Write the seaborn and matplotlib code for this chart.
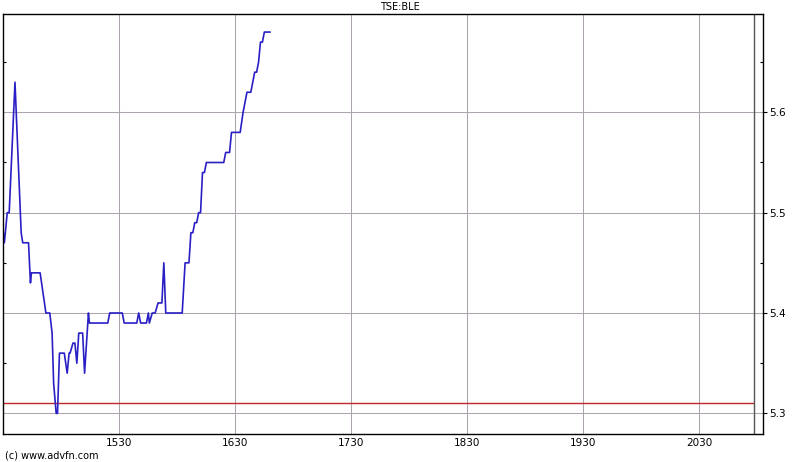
import numpy as np
import pandas as pd
import matplotlib.pyplot as plt
import seaborn as sns
from matplotlib.ticker import MultipleLocator

# minutes after 14:30 and last trade price
minutes = [0, 0.5, 2, 3, 6, 9.2, 10, 13, 14, 14.5, 19, 20.5, 22, 24, 25.2, 26,
           27.3, 28, 29, 31.5, 33, 34, 34.5, 36, 37, 38, 39, 41, 42, 44, 44.5,
           54, 55, 61.5, 62.5, 69, 70, 71, 74, 75, 75.5, 77, 78.5, 80, 82, 83,
           84, 92.5, 94, 96, 97, 98, 99, 100, 101, 102, 103, 104, 105, 114,
           115, 117, 118, 122.5, 124, 126, 128, 130, 131, 132, 133, 134, 135,
           138]
prices = [5.48, 5.47, 5.50, 5.50, 5.63, 5.48, 5.47, 5.47, 5.43, 5.44, 5.44,
          5.42, 5.40, 5.40, 5.38, 5.33, 5.30, 5.30, 5.36, 5.36, 5.34, 5.36,
          5.36, 5.37, 5.37, 5.35, 5.38, 5.38, 5.34, 5.40, 5.39, 5.39, 5.40,
          5.40, 5.39, 5.39, 5.40, 5.39, 5.39, 5.40, 5.39, 5.40, 5.40, 5.41,
          5.41, 5.45, 5.40, 5.40, 5.45, 5.45, 5.48, 5.48, 5.49, 5.49, 5.50,
          5.50, 5.54, 5.54, 5.55, 5.55, 5.56, 5.56, 5.58, 5.58, 5.60, 5.62,
          5.62, 5.64, 5.64, 5.65, 5.67, 5.67, 5.68, 5.68]
prev_close = 5.31
close_marker = 388.5
tick_pos = [60, 120, 180, 240, 300, 360]
tick_labels = ["1530", "1630", "1730", "1830", "1930", "2030"]
title = "TSE:BLE"

df = pd.DataFrame({"minute": minutes, "price": prices})

sns.set_style("white")
plt.rcParams['font.family'] = ['DejaVu Sans']

fig = plt.figure(figsize=(8, 4.62), dpi=100)
ax = fig.add_axes([3 / 800, 28 / 462, 759.5 / 800, 419.7 / 462])

grid_col = "#aea4b0"
for t in tick_pos:
    ax.axvline(t, color=grid_col, lw=0.75, zorder=0)
for v in [5.3, 5.4, 5.5, 5.6]:
    ax.axhline(v, color=grid_col, lw=0.75, zorder=0)

ax.plot([0, close_marker], [prev_close, prev_close], color="#c02828", lw=1, zorder=1)
ax.axvline(close_marker, color="#555555", lw=1, zorder=1)

sns.lineplot(data=df, x="minute", y="price", ax=ax, color="#2a1fc4", lw=1.2,
             estimator=None, sort=False, zorder=2)

ax.set_xlim(-0.2, 392.7)
ax.set_ylim(5.2794, 5.6977)
ax.set_xticks(tick_pos)
ax.set_xticklabels(tick_labels)
ax.set_yticks([5.3, 5.4, 5.5, 5.6])
ax.set_yticklabels(["5.3", "5.4", "5.5", "5.6"])
ax.yaxis.set_minor_locator(MultipleLocator(0.05))
ax.yaxis.tick_right()
ax.tick_params(axis="y", which="major", direction="out", length=3, width=0.8,
               labelsize=7.5, pad=2, right=True, left=False,
               color="black", labelcolor="black")
ax.tick_params(axis="y", which="minor", direction="in", length=2, width=0.8,
               right=True, left=True, color="black")
ax.tick_params(axis="x", length=0, labelsize=7.5, pad=3, labelcolor="black")
ax.set_xlabel("")
ax.set_ylabel("")

for s in ax.spines.values():
    s.set_color("black")
    s.set_linewidth(1)

fig.text(0.5, 1 - 7 / 462, title, ha="center", va="center", fontsize=7, color="black")
fig.text(5 / 800, 1 - 455 / 462, "(c) www.advfn.com", ha="left", va="center",
         fontsize=7, color="black")

fig.savefig("out.png", dpi=100)
